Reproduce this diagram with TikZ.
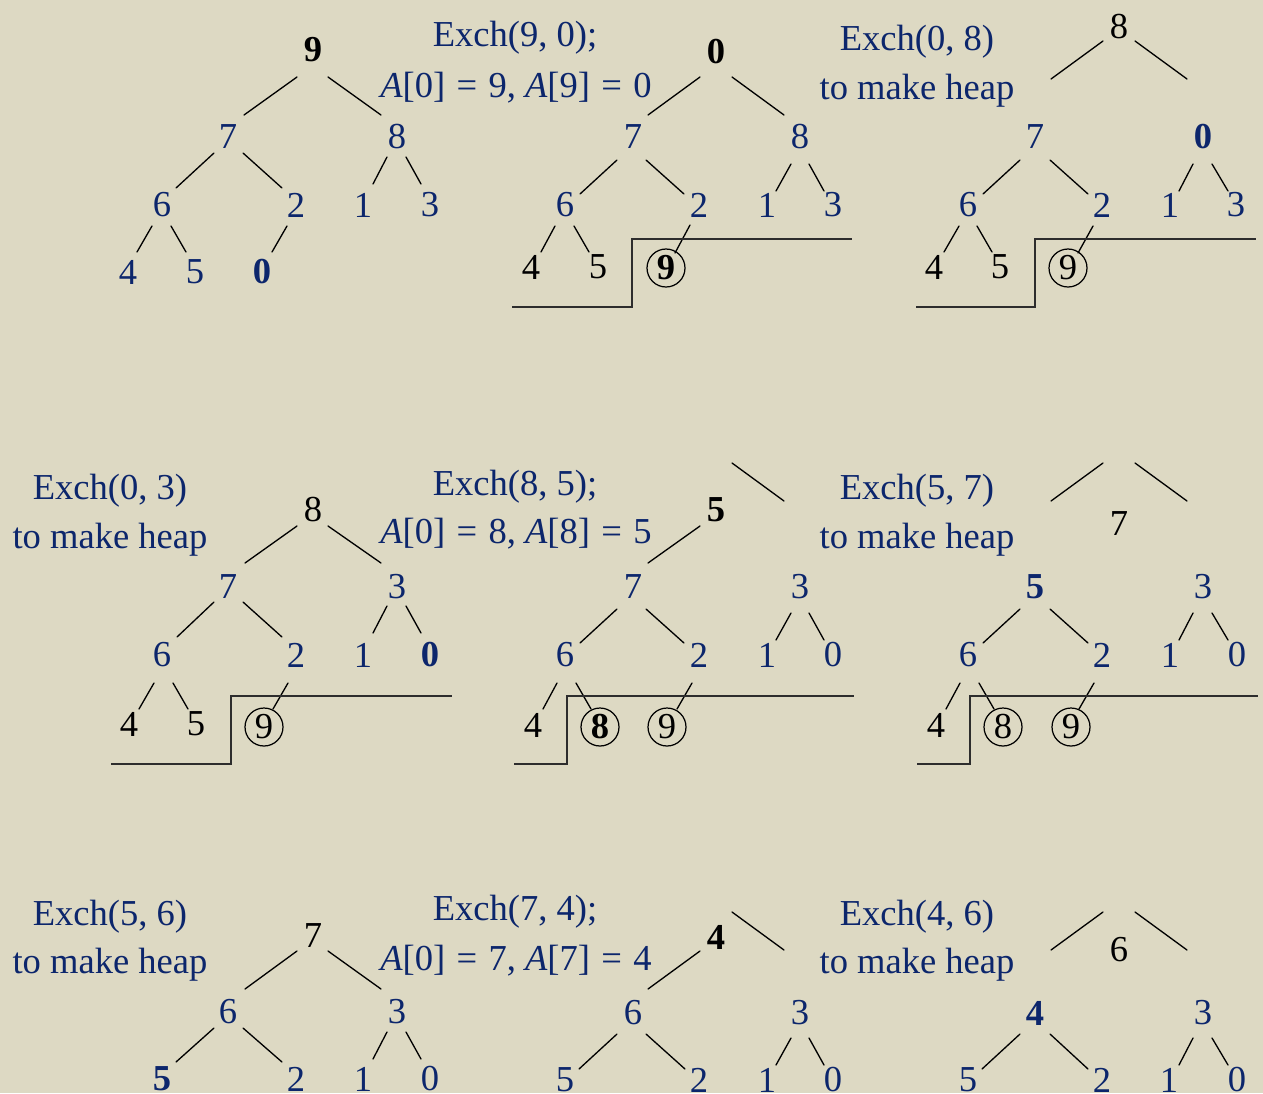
\documentclass[tikz,border=0pt]{standalone}
\usepackage{fontspec}
\setmainfont{Liberation Serif}
\usepackage{xcolor}
\definecolor{navy}{RGB}{12,38,108}
\definecolor{paper}{RGB}{221,217,195}
\definecolor{stairgray}{RGB}{45,45,45}
\newcommand\link[4]{\draw[branch] ([shift={(#2)}]#1.center) -- ([shift={(#4)}]#3.center);}
\newcommand\eq{\hspace{0.06em}=\hspace{0.06em}}

\begin{document}
\begin{tikzpicture}[x=0.02cm,y=-0.02cm,font=\fontsize{20.8}{25}\selectfont,line cap=round,
  num/.style={inner sep=0pt,text=navy},
  moved/.style={inner sep=0pt,text=black},
  ring/.style={circle,draw,line width=0.7pt,minimum size=0.76cm,inner sep=0pt,text=black},
  branch/.style={line width=0.75pt},
  stair/.style={draw=stairgray,line width=1.1pt,line cap=butt},
  caption/.style={anchor=base,inner sep=0pt,text=navy}]
\fill[paper] (0,0) rectangle (1263,1093);
\useasboundingbox (0,0) rectangle (1263,1093);

\node[moved] (A0) at (313,50) {\textbf{9}};
\node[num] (A1) at (228,137) {7};
\node[num] (A2) at (397,137) {8};
\node[num] (A3) at (162,205) {6};
\node[num] (A4) at (296,205) {2};
\node[num] (A5) at (363,205) {1};
\node[num] (A6) at (430,205) {3};
\node[num] (A7) at (128,272) {4};
\node[num] (A8) at (195,272) {5};
\node[num] (A9) at (262,272) {\textbf{0}};
\link{A0}{-16,27}{A1}{16,-22}
\link{A0}{15,27}{A2}{-16,-22}
\link{A1}{-14,16}{A3}{14,-17}
\link{A1}{15,16}{A4}{-14,-17}
\link{A2}{-10,20}{A5}{10,-21}
\link{A2}{9,20}{A6}{-9,-21}
\link{A3}{-10,21}{A7}{9,-20}
\link{A3}{9,21}{A8}{-9,-20}
\link{A4}{-9,21}{A9}{10,-20}

\node[caption] (tB1) at (515,46) {Exch(9, 0);};
\node[caption] (tB2) at (516,97) {{\itshape A}[0] \eq{} 9, {\itshape A}[9] \eq{} 0};
\node[moved] (B0) at (716,52) {\textbf{0}};
\node[num] (B1) at (633,137) {7};
\node[num] (B2) at (800,137) {8};
\node[num] (B3) at (565,205) {6};
\node[num] (B4) at (699,205) {2};
\node[num] (B5) at (767,205) {1};
\node[num] (B6) at (833,205) {3};
\node[moved] (B7) at (531,267) {4};
\node[moved] (B8) at (598,267) {5};
\node[ring] (B9) at (666,268) {\textbf{9}};
\link{B0}{-16,25}{B1}{15,-22}
\link{B0}{16,25}{B2}{-16,-22}
\link{B1}{-16,23}{B3}{15,-11}
\link{B1}{13,23}{B4}{-15,-11}
\link{B2}{-9,27}{B5}{9,-14}
\link{B2}{9,27}{B6}{-9,-14}
\link{B3}{-10,21}{B7}{10,-15}
\link{B3}{9,21}{B8}{-9,-15}
\link{B4}{-9,20}{B9}{9,-15}
\draw[stair] (512,307) -- (632,307) -- (632,239) -- (852,239);

\node[caption] (tC1) at (917,50) {Exch(0, 8)};
\node[caption] (tC2) at (917,99) {to make heap};
\node[moved] (C0) at (1119,27) {8};
\node[num] (C1) at (1035,137) {7};
\node[num] (C2) at (1203,137) {\textbf{0}};
\node[num] (C3) at (968,205) {6};
\node[num] (C4) at (1102,205) {2};
\node[num] (C5) at (1170,205) {1};
\node[num] (C6) at (1236,205) {3};
\node[moved] (C7) at (934,267) {4};
\node[moved] (C8) at (1000,267) {5};
\node[ring] (C9) at (1068,268) {9};
\link{C0}{-16,14}{C1}{16,-58}
\link{C0}{16,14}{C2}{-16,-58}
\link{C1}{-15,23}{C3}{15,-11}
\link{C1}{15,23}{C4}{-14,-11}
\link{C2}{-10,27}{C5}{9,-14}
\link{C2}{9,27}{C6}{-8,-14}
\link{C3}{-9,21}{C7}{10,-15}
\link{C3}{9,21}{C8}{-8,-15}
\link{C4}{-9,21}{C9}{10,-15}
\draw[stair] (916,307) -- (1035,307) -- (1035,239) -- (1256,239);

\node[caption] (tD1) at (110,499) {Exch(0, 3)};
\node[caption] (tD2) at (110,548) {to make heap};
\node[moved] (D0) at (313,510) {8};
\node[num] (D1) at (228,587) {7};
\node[num] (D2) at (397,587) {3};
\node[num] (D3) at (162,655) {6};
\node[num] (D4) at (296,655) {2};
\node[num] (D5) at (363,655) {1};
\node[num] (D6) at (430,655) {\textbf{0}};
\node[moved] (D7) at (129,724) {4};
\node[moved] (D8) at (196,724) {5};
\node[ring] (D9) at (264,727) {9};
\link{D0}{-16,16}{D1}{17,-24}
\link{D0}{15,16}{D2}{-16,-24}
\link{D1}{-14,15}{D3}{15,-18}
\link{D1}{15,15}{D4}{-14,-18}
\link{D2}{-10,19}{D5}{10,-22}
\link{D2}{9,19}{D6}{-9,-22}
\link{D3}{-8,28}{D7}{10,-15}
\link{D3}{11,28}{D8}{-8,-15}
\link{D4}{-8,28}{D9}{9,-18}
\draw[stair] (111,764) -- (231,764) -- (231,696) -- (452,696);

\node[caption] (tE1) at (515,495) {Exch(8, 5);};
\node[caption] (tE2) at (516,543) {{\itshape A}[0] \eq{} 8, {\itshape A}[8] \eq{} 5};
\node[moved] (E0) at (716,510) {\textbf{5}};
\node[num] (E1) at (633,587) {7};
\node[num] (E2) at (800,587) {3};
\node[num] (E3) at (565,655) {6};
\node[num] (E4) at (699,655) {2};
\node[num] (E5) at (767,655) {1};
\node[num] (E6) at (833,655) {0};
\node[moved] (E7) at (533,725) {4};
\node[ring] (E8) at (600,727) {\textbf{8}};
\node[ring] (E9) at (667,727) {9};
\link{E0}{-16,16}{E1}{15,-24}
\link{E0}{16,-47}{E0}{68,-9}
\link{E1}{-16,22}{E3}{15,-12}
\link{E1}{13,22}{E4}{-15,-12}
\link{E2}{-9,26}{E5}{9,-15}
\link{E2}{9,26}{E6}{-9,-15}
\link{E3}{-8,28}{E7}{10,-16}
\link{E3}{11,28}{E8}{-9,-18}
\link{E4}{-7,28}{E9}{10,-18}
\draw[stair] (514,764) -- (567,764) -- (567,696) -- (854,696);

\node[caption] (tF1) at (917,499) {Exch(5, 7)};
\node[caption] (tF2) at (917,548) {to make heap};
\node[moved] (F0) at (1119,524) {7};
\node[num] (F1) at (1035,587) {\textbf{5}};
\node[num] (F2) at (1203,587) {3};
\node[num] (F3) at (968,655) {6};
\node[num] (F4) at (1102,655) {2};
\node[num] (F5) at (1170,655) {1};
\node[num] (F6) at (1237,655) {0};
\node[moved] (F7) at (936,725) {4};
\node[ring] (F8) at (1003,727) {8};
\node[ring] (F9) at (1071,727) {9};
\link{F0}{-16,-61}{F0}{-68,-23}
\link{F0}{16,-61}{F0}{68,-23}
\link{F1}{-15,22}{F3}{15,-12}
\link{F1}{15,22}{F4}{-14,-12}
\link{F2}{-10,26}{F5}{9,-15}
\link{F2}{9,26}{F6}{-9,-15}
\link{F3}{-8,28}{F7}{10,-16}
\link{F3}{11,28}{F8}{-9,-18}
\link{F4}{-8,28}{F9}{8,-18}
\draw[stair] (917,764) -- (970,764) -- (970,696) -- (1258,696);

\node[caption] (tG1) at (110,925) {Exch(5, 6)};
\node[caption] (tG2) at (110,973) {to make heap};
\node[moved] (G0) at (313,936) {7};
\node[num] (G1) at (228,1012) {6};
\node[num] (G2) at (397,1012) {3};
\node[num] (G3) at (162,1079) {\textbf{5}};
\node[num] (G4) at (296,1079) {2};
\node[num] (G5) at (363,1079) {1};
\node[num] (G6) at (430,1079) {0};
\link{G0}{-16,15}{G1}{17,-23}
\link{G0}{15,15}{G2}{-16,-23}
\link{G1}{-14,16}{G3}{14,-17}
\link{G1}{15,16}{G4}{-14,-17}
\link{G2}{-10,20}{G5}{10,-20}
\link{G2}{9,20}{G6}{-9,-20}

\node[caption] (tH1) at (515,920) {Exch(7, 4);};
\node[caption] (tH2) at (516,970) {{\itshape A}[0] \eq{} 7, {\itshape A}[7] \eq{} 4};
\node[moved] (H0) at (716,937) {\textbf{4}};
\node[num] (H1) at (633,1013) {6};
\node[num] (H2) at (800,1013) {3};
\node[num] (H3) at (565,1080) {5};
\node[num] (H4) at (699,1080) {2};
\node[num] (H5) at (767,1080) {1};
\node[num] (H6) at (833,1080) {0};
\link{H0}{-16,14}{H1}{15,-24}
\link{H0}{16,-25}{H0}{68,13}
\link{H1}{-16,21}{H3}{14,-11}
\link{H1}{13,21}{H4}{-14,-11}
\link{H2}{-9,25}{H5}{9,-15}
\link{H2}{9,25}{H6}{-9,-15}

\node[caption] (tI1) at (917,925) {Exch(4, 6)};
\node[caption] (tI2) at (917,973) {to make heap};
\node[moved] (I0) at (1119,950) {6};
\node[num] (I1) at (1035,1013) {\textbf{4}};
\node[num] (I2) at (1203,1013) {3};
\node[num] (I3) at (968,1080) {5};
\node[num] (I4) at (1102,1080) {2};
\node[num] (I5) at (1169,1080) {1};
\node[num] (I6) at (1237,1080) {0};
\link{I0}{-16,-38}{I0}{-68,0}
\link{I0}{16,-38}{I0}{68,0}
\link{I1}{-15,21}{I3}{14,-11}
\link{I1}{15,21}{I4}{-14,-11}
\link{I2}{-10,25}{I5}{10,-15}
\link{I2}{9,25}{I6}{-9,-15}
\end{tikzpicture}
\end{document}
